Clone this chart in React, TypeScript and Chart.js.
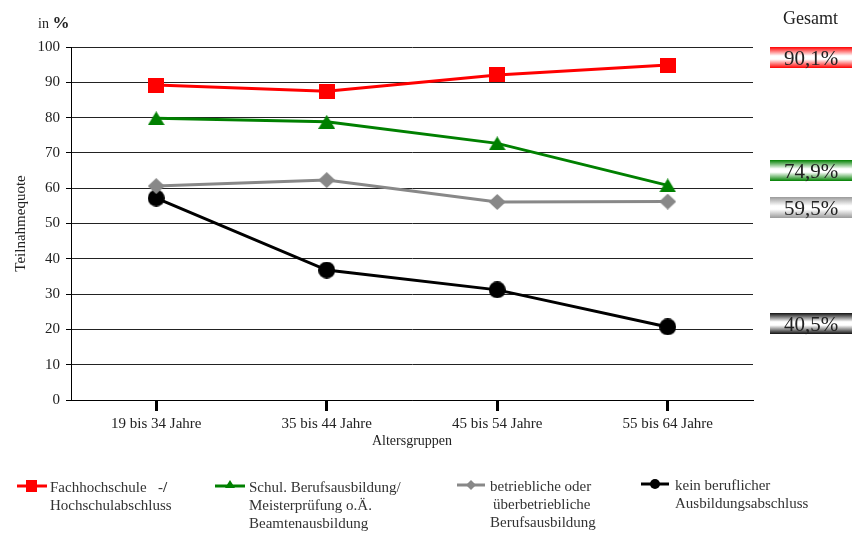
import React, { useEffect, useRef } from "react";
import { Chart, registerables } from "chart.js";

Chart.register(...registerables);

// Age groups on the x axis
const ageGroups = ["19 bis 34 Jahre", "35 bis 44 Jahre", "45 bis 54 Jahre", "55 bis 64 Jahre"];

// Participation rate (%) by highest vocational qualification
const hochschule = [89.2, 87.5, 92.1, 94.9];
const schulisch = [79.8, 78.8, 72.7, 60.8];
const betrieblich = [60.6, 62.3, 56.1, 56.2];
const keinAbschluss = [57.2, 36.8, 31.2, 20.7];

// Overall rate per qualification group ("Gesamt")
const gesamt = [90.1, 74.9, 59.5, 40.5];

const FONT = '"Liberation Serif", "Times New Roman", serif';
const TEXT = "#222";

const RED = "#ff0000";
const GREEN = "#008000";
const GRAY = "#888888";
const BLACK = "#000000";

// vertical placement of the "Gesamt" badges
const badgeTops = [47, 160, 197, 313];
const badgeColors = [RED, GREEN, "#9a9a9a", "#111111"];

function marker(kind: string, color: string, w: number, h: number): HTMLCanvasElement {
  const c = document.createElement("canvas");
  c.width = w;
  c.height = h;
  const g = c.getContext("2d")!;
  g.fillStyle = color;
  g.beginPath();
  if (kind === "square") {
    g.rect(0, 0, w, h);
  } else if (kind === "triangle") {
    g.moveTo(w / 2, 0);
    g.lineTo(w, h);
    g.lineTo(0, h);
    g.closePath();
  } else if (kind === "diamond") {
    g.moveTo(w / 2, 0);
    g.lineTo(w, h / 2);
    g.lineTo(w / 2, h);
    g.lineTo(0, h / 2);
    g.closePath();
  } else {
    g.arc(w / 2, h / 2, w / 2, 0, Math.PI * 2);
  }
  g.fill();
  return c;
}

const fmt = (v: number) => v.toFixed(1).replace(".", ",") + "%";

export default function App() {
  const ref = useRef<HTMLCanvasElement>(null);

  useEffect(() => {
    const canvas = ref.current!;
    const series = (label: string, values: number[], color: string, style: HTMLCanvasElement) => ({
      label,
      data: values.map((y, i) => ({ x: i, y })),
      borderColor: color,
      backgroundColor: color,
      borderWidth: 3,
      pointStyle: style,
      pointRadius: 8,
      tension: 0,
    });

    const chart = new Chart(canvas, {
      type: "line",
      data: {
        datasets: [
          series("Fachhochschule -/ Hochschulabschluss", hochschule, RED, marker("square", RED, 16, 15)),
          series("Schul. Berufsausbildung/ Meisterprüfung o.Ä. Beamtenausbildung", schulisch, GREEN, marker("triangle", GREEN, 17, 14)),
          series("betriebliche oder überbetriebliche Berufsausbildung", betrieblich, GRAY, marker("diamond", GRAY, 17, 16)),
          series("kein beruflicher Ausbildungsabschluss", keinAbschluss, BLACK, marker("circle", BLACK, 17, 17)),
        ],
      },
      options: {
        animation: false,
        responsive: false,
        maintainAspectRatio: false,
        layout: { padding: { top: 47, right: 100, left: 0, bottom: 0 } },
        plugins: { legend: { display: false }, tooltip: { enabled: false } },
        scales: {
          x: {
            type: "linear",
            min: -0.5,
            max: 3.5,
            afterFit: (s: any) => {
              s.height = 133;
            },
            afterBuildTicks: (s: any) => {
              s.ticks = ageGroups.map((_, i) => ({ value: i }));
            },
            ticks: {
              callback: (v: any) => ageGroups[v],
              font: { family: FONT, size: 15 },
              color: TEXT,
              padding: 4,
              maxRotation: 0,
              autoSkip: false,
            },
            grid: { drawOnChartArea: false, tickLength: 11, tickWidth: 3, tickColor: "#000" },
            border: { color: "#000", width: 1 },
            title: {
              display: true,
              text: "Altersgruppen",
              font: { family: FONT, size: 14 },
              color: TEXT,
              padding: { top: 0, bottom: 83 },
            },
          },
          y: {
            min: 0,
            max: 100,
            afterFit: (s: any) => {
              s.width = 71;
            },
            ticks: { stepSize: 10, font: { family: FONT, size: 15 }, color: TEXT, padding: 6 },
            grid: { color: "#222", lineWidth: 1, tickLength: 5, tickColor: "#000" },
            border: { color: "#000", width: 1 },
            title: {
              display: true,
              text: "Teilnahmequote",
              font: { family: FONT, size: 15 },
              color: TEXT,
              padding: { top: 12, bottom: 0 },
            },
          },
        },
      },
    });
    return () => chart.destroy();
  }, []);

  const abs = (left: number, top: number, extra: React.CSSProperties = {}): React.CSSProperties => ({
    position: "absolute",
    left,
    top,
    fontFamily: FONT,
    color: TEXT,
    whiteSpace: "nowrap",
    ...extra,
  });

  const legendText: React.CSSProperties = { fontSize: 15, lineHeight: "18px", color: "#333" };

  return (
    <div style={{ position: "absolute", left: 0, top: 0, width: 853, height: 533, background: "#fff" }}>
      <canvas ref={ref} width={853} height={533} style={{ position: "absolute", left: 0, top: 0, width: 853, height: 533 }} />

      <div style={abs(38, 13, { fontSize: 14, lineHeight: "20px" })}>
        in <b style={{ fontSize: 17 }}>%</b>
      </div>

      <div style={abs(783, 7, { fontSize: 18, lineHeight: "22px" })}>Gesamt</div>

      {gesamt.map((v, i) => (
        <div
          key={i}
          style={abs(770, badgeTops[i], {
            width: 82,
            height: 21,
            fontSize: 21,
            lineHeight: "22px",
            textAlign: "center",
            background: `linear-gradient(to bottom, ${badgeColors[i]} 0%, #ffffff 42%, #ffffff 58%, ${badgeColors[i]} 100%)`,
          })}
        >
          {fmt(v)}
        </div>
      ))}

      {/* legend */}
      <svg style={{ position: "absolute", left: 0, top: 470 }} width={853} height={30}>
        <line x1={17} y1={16} x2={47} y2={16} stroke={RED} strokeWidth={3} />
        <rect x={26} y={10} width={11} height={12} fill={RED} />
        <line x1={215} y1={16} x2={245} y2={16} stroke={GREEN} strokeWidth={3} />
        <polygon points="230,10 235,18 225,18" fill={GREEN} />
        <line x1={457} y1={15} x2={485} y2={15} stroke={GRAY} strokeWidth={3} />
        <polygon points="471,10 476,15 471,20 466,15" fill={GRAY} />
        <line x1={641} y1={14} x2={669} y2={14} stroke={BLACK} strokeWidth={3} />
        <circle cx={655} cy={14} r={5} fill={BLACK} />
      </svg>

      <div style={abs(50, 478, legendText)}>
        Fachhochschule&nbsp;&nbsp;&nbsp;-<b>/</b>
        <br />
        Hochschulabschluss
      </div>
      <div style={abs(249, 478, legendText)}>
        Schul. Berufsausbildung/
        <br />
        Meisterprüfung o.Ä.
        <br />
        Beamtenausbildung
      </div>
      <div style={abs(490, 477, legendText)}>
        betriebliche oder
        <br />
        <span style={{ marginLeft: 3 }}>überbetriebliche</span>
        <br />
        Berufsausbildung
      </div>
      <div style={abs(675, 476, legendText)}>
        kein beruflicher
        <br />
        Ausbildungsabschluss
      </div>
    </div>
  );
}
